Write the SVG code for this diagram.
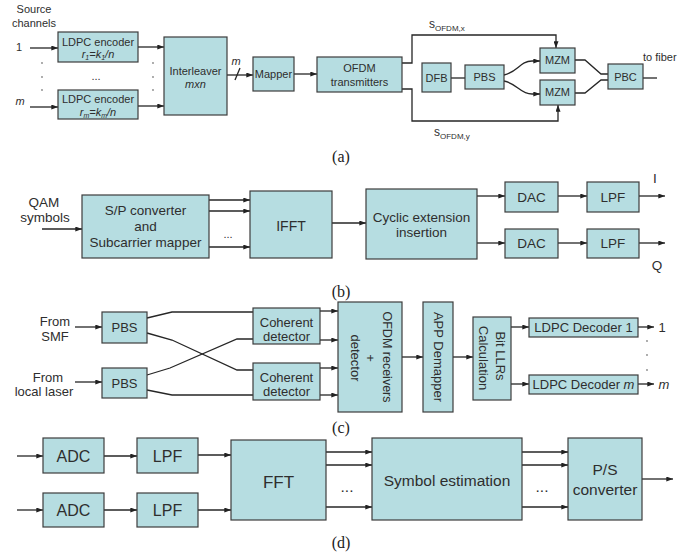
<svg xmlns="http://www.w3.org/2000/svg" width="695" height="557" viewBox="0 0 695 557">
<defs>
<marker id="ah" viewBox="0 0 8 6" refX="8" refY="3" markerWidth="7" markerHeight="5" orient="auto" markerUnits="userSpaceOnUse"><path d="M0,0 L8,3 L0,6 z" fill="#222"/></marker>
<style>
.b{fill:#b6dde1;stroke:#3c3c3c;stroke-width:1.2}
.t{font-family:"Liberation Sans",Arial,sans-serif;fill:#2e2e2e;text-anchor:middle}
.s{font-size:11px}.m{font-size:13.5px}.c{font-size:13px}.d{font-size:15.5px}
.l{fill:none;stroke:#262626;stroke-width:1.3}
.a{marker-end:url(#ah)}
.p{font-family:"Liberation Serif","Times New Roman",serif;font-size:16px;fill:#222;text-anchor:middle}
.dot{fill:#888}
.i{font-style:italic}
</style>
</defs>
<rect width="695" height="557" fill="#fff"/>

<!-- connectors -->
<g id="connectors">
<!-- (a) -->
<path class="l a" d="M30,48 H58"/>
<path class="l a" d="M30,107 H58"/>
<path class="l a" d="M138,47 H164"/>
<path class="l a" d="M138,106 H164"/>
<path class="l a" d="M227,75 H253"/>
<path class="l" d="M235,80 L240,68"/>
<path class="l a" d="M294,74 H317"/>
<path class="l a" d="M402,63 H412 V35 H556 V48"/>
<path class="l a" d="M402,89 H412 V121 H558 V105"/>
<path class="l" d="M451,78 H465"/>
<path class="l a" d="M504,75 C518,72 520,61 532,61 H540"/>
<path class="l a" d="M504,81 C518,84 520,94 532,94 H540"/>
<path class="l" d="M575,60 H585 L601,74 H608"/>
<path class="l" d="M575,93 H585 L601,80 H608"/>
<path class="l" d="M643,78 H657"/>
<!-- (b) -->
<path class="l a" d="M42,229 H82"/>
<path class="l a" d="M209,200 H250"/>
<path class="l a" d="M209,211 H250"/>
<path class="l a" d="M209,247 H250"/>
<path class="l a" d="M332,223 H366"/>
<path class="l a" d="M477,196 H505"/>
<path class="l a" d="M477,243 H505"/>
<path class="l a" d="M558,196 H587"/>
<path class="l a" d="M558,243 H587"/>
<path class="l a" d="M639,196 H665"/>
<path class="l a" d="M639,243 H665"/>
<!-- (c) -->
<path class="l a" d="M75,327 H102"/>
<path class="l a" d="M75,382 H102"/>
<path class="l" d="M147,318 L172,312 H253"/>
<path class="l" d="M147,333 L172,340 L237,370 H253"/>
<path class="l" d="M147,375 L170,368 L237,339 H253"/>
<path class="l" d="M147,390 L172,395 H253"/>
<path class="l a" d="M320,311 H338"/>
<path class="l a" d="M320,340 H338"/>
<path class="l a" d="M320,368 H338"/>
<path class="l a" d="M320,395 H338"/>
<path class="l a" d="M402,357 H423"/>
<path class="l a" d="M453,357 H473"/>
<path class="l a" d="M511,327 H529"/>
<path class="l a" d="M511,384 H529"/>
<path class="l a" d="M638,327 H654"/>
<path class="l a" d="M638,384 H654"/>
<!-- (d) -->
<path class="l a" d="M17,456 H43"/>
<path class="l a" d="M17,510 H43"/>
<path class="l a" d="M104,456 H137"/>
<path class="l a" d="M104,510 H137"/>
<path class="l a" d="M198,455 H231"/>
<path class="l a" d="M198,510 H231"/>
<path class="l a" d="M326,452 H372"/>
<path class="l a" d="M326,465 H372"/>
<path class="l a" d="M326,507 H372"/>
<path class="l a" d="M522,452 H568"/>
<path class="l a" d="M522,465 H568"/>
<path class="l a" d="M522,507 H568"/>
<path class="l a" d="M642,479 H673"/>
</g>

<!-- panel (a) -->
<g id="labels-a">
<text class="t s" x="34" y="13">Source</text>
<text class="t s" x="34" y="27">channels</text>
<text class="t s" x="19" y="51">1</text>
<text class="t s i" x="20" y="105">m</text>
<circle class="dot" cx="42" cy="63" r="0.9"/><circle class="dot" cx="42" cy="77" r="0.9"/><circle class="dot" cx="42" cy="90" r="0.9"/>
<circle class="dot" cx="153" cy="63" r="0.9"/><circle class="dot" cx="153" cy="77" r="0.9"/><circle class="dot" cx="153" cy="90" r="0.9"/>
<text class="t s" x="96" y="80" fill="#777">...</text>
<text class="t s i" x="236" y="65">m</text>
<text style="font-family:'Liberation Sans',Arial,sans-serif;font-size:12px;fill:#2e2e2e" x="429" y="28">s<tspan font-size="8" dy="3">OFDM,x</tspan></text>
<text style="font-family:'Liberation Sans',Arial,sans-serif;font-size:12px;fill:#2e2e2e" x="434" y="136">s<tspan font-size="8" dy="3">OFDM,y</tspan></text>
<text style="font-family:'Liberation Sans',Arial,sans-serif;font-size:11px;fill:#2e2e2e" x="643" y="61">to fiber</text>
</g>
<g id="ldpc-enc-1">
<rect class="b" x="58" y="32" width="80" height="30"/>
<text class="t s" x="98" y="46">LDPC encoder</text>
<text class="t s i" x="98" y="58">r<tspan font-size="7" dy="2">1</tspan><tspan dy="-2">=k</tspan><tspan font-size="7" dy="2">1</tspan><tspan dy="-2">/n</tspan></text>
</g>
<g id="ldpc-enc-m">
<rect class="b" x="58" y="90" width="80" height="29"/>
<text class="t s" x="98" y="103">LDPC encoder</text>
<text class="t s i" x="98" y="116">r<tspan font-size="7" dy="2">m</tspan><tspan dy="-2">=k</tspan><tspan font-size="7" dy="2">m</tspan><tspan dy="-2">/n</tspan></text>
</g>
<g id="interleaver">
<rect class="b" x="164" y="37" width="63" height="78"/>
<text class="t s" x="195.5" y="75">Interleaver</text>
<text class="t s i" x="195.5" y="88">mxn</text>
</g>
<g id="mapper">
<rect class="b" x="253" y="57" width="41" height="34"/>
<text class="t s" x="273.5" y="78">Mapper</text>
</g>
<g id="ofdm-tx">
<rect class="b" x="317" y="57" width="85" height="35"/>
<text class="t s" x="359.5" y="72">OFDM</text>
<text class="t s" x="359.5" y="86">transmitters</text>
</g>
<g id="dfb">
<rect class="b" x="422" y="63" width="29" height="29"/>
<text class="t s" x="436.5" y="82">DFB</text>
</g>
<g id="pbs-a">
<rect class="b" x="465" y="65" width="39" height="24"/>
<text class="t s" x="484.5" y="81">PBS</text>
</g>
<g id="mzm-x">
<rect class="b" x="540" y="48" width="35" height="25"/>
<text class="t s" x="557.5" y="64">MZM</text>
</g>
<g id="mzm-y">
<rect class="b" x="540" y="80" width="35" height="25"/>
<text class="t s" x="557.5" y="96">MZM</text>
</g>
<g id="pbc">
<rect class="b" x="608" y="64" width="35" height="25"/>
<text class="t s" x="625.5" y="81">PBC</text>
</g>
<text class="p" x="341" y="162">(a)</text>

<!-- panel (b) -->
<g id="labels-b">
<text class="t m" x="44" y="207">QAM</text>
<text class="t m" x="45" y="222">symbols</text>
<text class="t s" x="228" y="238" fill="#777">...</text>
<text class="t m" x="655" y="183">I</text>
<text class="t m" x="657" y="270">Q</text>
</g>
<g id="sp-converter">
<rect class="b" x="82" y="195" width="127" height="63"/>
<text class="t m" x="145.5" y="215">S/P converter</text>
<text class="t m" x="145.5" y="231">and</text>
<text class="t m" x="145.5" y="247">Subcarrier mapper</text>
</g>
<g id="ifft">
<rect class="b" x="250" y="191" width="82" height="67"/>
<text class="t" style="font-size:14px" x="291" y="231">IFFT</text>
</g>
<g id="cyclic">
<rect class="b" x="366" y="189" width="111" height="70"/>
<text class="t m" x="421.5" y="222">Cyclic extension</text>
<text class="t m" x="421.5" y="237">insertion</text>
</g>
<g id="dac-i">
<rect class="b" x="505" y="182" width="53" height="30"/>
<text class="t m" x="531.5" y="202">DAC</text>
</g>
<g id="lpf-i">
<rect class="b" x="587" y="182" width="52" height="30"/>
<text class="t m" x="613" y="202">LPF</text>
</g>
<g id="dac-q">
<rect class="b" x="505" y="229" width="53" height="29"/>
<text class="t m" x="531.5" y="248">DAC</text>
</g>
<g id="lpf-q">
<rect class="b" x="587" y="229" width="52" height="29"/>
<text class="t m" x="613" y="248">LPF</text>
</g>
<text class="p" x="341" y="297">(b)</text>

<!-- panel (c) -->
<g id="labels-c">
<text class="t c" x="55" y="326">From</text>
<text class="t c" x="55" y="341">SMF</text>
<text class="t c" x="48" y="382">From</text>
<text class="t c" x="44" y="396">local laser</text>
<text class="t c" x="662" y="332">1</text>
<text class="t c i" x="664" y="389">m</text>
<circle class="dot" cx="647" cy="341" r="0.9"/><circle class="dot" cx="647" cy="355" r="0.9"/><circle class="dot" cx="647" cy="370" r="0.9"/>
</g>
<g id="pbs-sig">
<rect class="b" x="102" y="312" width="45" height="31"/>
<text class="t c" x="124.5" y="332">PBS</text>
</g>
<g id="pbs-lo">
<rect class="b" x="102" y="368" width="45" height="30"/>
<text class="t c" x="124.5" y="388">PBS</text>
</g>
<g id="coh-det-1">
<rect class="b" x="253" y="308" width="67" height="36"/>
<text class="t c" x="286.5" y="327">Coherent</text>
<text class="t c" x="286.5" y="341">detector</text>
</g>
<g id="coh-det-2">
<rect class="b" x="253" y="363" width="67" height="37"/>
<text class="t c" x="286.5" y="382">Coherent</text>
<text class="t c" x="286.5" y="396">detector</text>
</g>
<g id="ofdm-rx">
<rect class="b" x="338" y="302" width="64" height="110"/>
<text class="t" style="font-size:12.5px" transform="translate(383,357) rotate(90)">OFDM receivers</text>
<text class="t c" transform="translate(366,358) rotate(90)">+</text>
<text class="t c" transform="translate(351,358) rotate(90)">detector</text>
</g>
<g id="app-demapper">
<rect class="b" x="423" y="302" width="30" height="110"/>
<text class="t c" transform="translate(434,357) rotate(90)">APP Demapper</text>
</g>
<g id="bit-llr">
<rect class="b" x="473" y="317" width="38" height="83"/>
<text class="t c" transform="translate(496,356) rotate(90)">Bit LLRs</text>
<text class="t c" transform="translate(479,358) rotate(90)">Calculation</text>
</g>
<g id="ldpc-dec-1">
<rect class="b" x="529" y="318" width="109" height="19"/>
<text class="t c" x="583.5" y="332">LDPC Decoder 1</text>
</g>
<g id="ldpc-dec-m">
<rect class="b" x="529" y="375" width="109" height="19"/>
<text class="t c" x="583.5" y="389">LDPC Decoder <tspan font-style="italic">m</tspan></text>
</g>
<text class="p" x="341" y="433">(c)</text>

<!-- panel (d) -->
<g id="labels-d">
<text class="t d" x="347" y="492" fill="#777">...</text>
<text class="t d" x="542" y="492" fill="#777">...</text>
</g>
<g id="adc-1">
<rect class="b" x="43" y="438" width="61" height="35"/>
<text class="t" style="font-size:16px" x="73.5" y="462">ADC</text>
</g>
<g id="lpf-d1">
<rect class="b" x="137" y="438" width="61" height="35"/>
<text class="t" style="font-size:16px" x="167.5" y="462">LPF</text>
</g>
<g id="adc-2">
<rect class="b" x="43" y="493" width="61" height="34"/>
<text class="t" style="font-size:16px" x="73.5" y="516">ADC</text>
</g>
<g id="lpf-d2">
<rect class="b" x="137" y="493" width="61" height="34"/>
<text class="t" style="font-size:16px" x="167.5" y="516">LPF</text>
</g>
<g id="fft">
<rect class="b" x="231" y="440" width="95" height="80"/>
<text class="t" style="font-size:17px" x="278.5" y="488">FFT</text>
</g>
<g id="symbol-est">
<rect class="b" x="372" y="438" width="150" height="82"/>
<text class="t d" x="447" y="486">Symbol estimation</text>
</g>
<g id="ps-converter">
<rect class="b" x="568" y="438" width="74" height="82"/>
<text class="t d" x="605" y="475">P/S</text>
<text class="t d" x="605" y="495">converter</text>
</g>
<text class="p" x="341" y="548">(d)</text>
</svg>
